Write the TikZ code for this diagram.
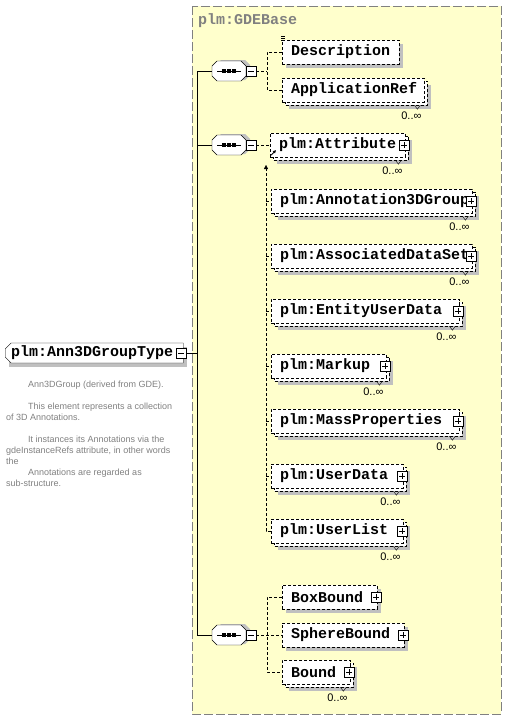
\documentclass[tikz,border=0pt]{standalone}
\usepackage{fontspec}
\setmainfont{Liberation Sans}
\newfontfamily\monofam{Liberation Mono}
\usetikzlibrary{
  positioning,
  shapes.misc,
  arrows.meta
}
\pgfdeclarelayer{frame}
\pgfdeclarelayer{shade}
\pgfsetlayers{frame,shade,main}
\definecolor{gdeyellow}{RGB}{255,255,204}
\definecolor{shadowgray}{RGB}{192,192,192}
\definecolor{docgray}{RGB}{128,128,128}
\newcommand{\elemfont}{\monofam\bfseries\fontsize{15}{15}\selectfont\hyphenpenalty=10000 }
\newcommand{\docfont}{\fontsize{9}{11}\selectfont}
\tikzset{
  gdeframe/.style={draw=docgray, dash pattern=on 9pt off 3pt, fill=gdeyellow},
  elem/.style={draw, dash pattern=on 3pt off 2pt, fill=white, anchor=west,
    minimum height=24, inner xsep=9pt, inner ysep=0pt, text width=#1pt,
    align=left, font=\elemfont},
  backbox/.style={draw, dash pattern=on 3pt off 2pt, fill=white},
  typebox/.style={chamfered rectangle, chamfered rectangle corners={north west,south west},
    chamfered rectangle sep=3pt, draw, fill=white, anchor=west,
    minimum height=20, inner xsep=3pt, inner ysep=0pt, text width=166pt,
    align=left, font=\elemfont},
  seq/.style={minimum width=34, minimum height=20, inner sep=0pt},
  btn/.style={draw, solid, fill=white, minimum size=10, inner sep=0pt},
  plusbtn/.style={btn, path picture={\draw (path picture bounding box.center)
    +(-3,0) -- +(3,0) +(0,-3) -- +(0,3);}},
  minusbtn/.style={btn, path picture={\draw (path picture bounding box.center)
    +(-3,0) -- +(3,0);}},
  conn/.style={dash pattern=on 3pt off 2pt},
  card/.style={font=\fontsize{11}{11}\selectfont, inner sep=0pt}
}
\begin{document}
\begin{tikzpicture}[x=1pt, y=-1pt, line width=1pt]
  \useasboundingbox (0,0) rectangle (507,720);
  \def\Xa{282}; % element column
  \def\Xb{271}; % plm: element column
  \def\Xs{229}; % compositors
  \def\Xt{197}; % trunk
  \def\Xj{267}; % joints

  % base type frame
  \begin{pgfonlayer}{frame}
    \draw[gdeframe] (192,6) rectangle (501,714);
  \end{pgfonlayer}
  \node[anchor=west, inner sep=0pt, font=\elemfont, text=docgray] (gdelabel) at (198,21) {plm:GDEBase};

  % root type + documentation
  \node[typebox] (root) at (5,353) {plm:Ann3DGroupType};
  \node[minusbtn] (rootbtn) at (181,353) {};
  \node[anchor=north west, inner sep=0pt, font=\docfont, text=docgray, align=left] (doc) at (6,381)
    {\hspace*{22pt}Ann3DGroup (derived from GDE).\\[11pt]
     \hspace*{22pt}This element represents a collection\\
     of 3D Annotations.\\[11pt]
     \hspace*{22pt}It instances its Annotations via the\\
     gdeInstanceRefs attribute, in other words\\
     the\\
     \hspace*{22pt}Annotations are regarded as\\
     sub-structure.};

  % compositors (sequence)
  \node[seq] (seqA) at (\Xs,71) {};
  \node[seq] (seqB) at (\Xs,145) {};
  \node[seq] (seqC) at (\Xs,635) {};
  \foreach \s in {seqA,seqB,seqC}{
    \begin{pgfonlayer}{shade}
      \fill[shadowgray] ([shift={(-13,-6)}]\s.center) -- ++(5,-5) -- ++(24,0) -- ++(5,5)
        -- ++(0,10) -- ++(-5,5) -- ++(-24,0) -- ++(-5,-5) -- cycle;
    \end{pgfonlayer}
    \draw[fill=white] ([shift={(-17,-5)}]\s.center) -- ++(5,-5) -- ++(24,0) -- ++(5,5)
      -- ++(0,10) -- ++(-5,5) -- ++(-24,0) -- ++(-5,-5) -- cycle;
    \draw (\s.center) +(-12,0) -- +(12,0);
    \foreach \d in {-5,0,5}
      \fill ([shift={(\d-1.6,-1.6)}]\s.center) rectangle ++(3.2,3.2);
  }
  \node[minusbtn] (seqAbtn) at (251,71) {};
  \node[minusbtn] (seqBbtn) at (251,145) {};
  \node[minusbtn] (seqCbtn) at (251,635) {};

  % trunk
  \coordinate (trunk) at (\Xt,353);
  \draw (rootbtn.east) -- (trunk);
  \draw (seqA.west) -- (seqA.west -| trunk) -- (seqC.west -| trunk) -- (seqC.west);
  \draw (seqB.west) -- (seqB.west -| trunk);

  % first sequence
  \node[elem=99] (desc) at (\Xa,52) {Description};
  \node[elem=124] (appref) at (\Xa,90) {ApplicationRef};
  \coordinate (jA) at (\Xj,71);
  \draw[conn] (seqAbtn.east) -- (jA);
  \draw[conn] (desc.west) -| (jA) |- (appref.west);
  \foreach \k in {0,2,4}
    \draw[line width=0.8pt] ([shift={(-1,-16+\k)}]desc.west) -- ++(4,0);

  % second sequence
  \node[elem=117] (attr) at (270,145) {plm:Attribute};
  \draw[conn] (seqBbtn.east) -- (attr.west);
  \draw[-{Triangle[length=3pt,width=3pt]}, line width=0.8pt]
    ([shift={(1,-2)}]attr.south west) -- ++(5,-5);
  \node[elem=183] (annot) at (\Xb,201) {plm:Annotation3DGroup};
  \node[elem=183] (assoc) at (\Xb,256) {plm:AssociatedDataSet};
  \node[elem=170] (entity) at (\Xb,311) {plm:EntityUserData};
  \node[elem=97] (markup) at (\Xb,366) {plm:Markup};
  \node[elem=170] (mass) at (\Xb,421) {plm:MassProperties};
  \node[elem=114] (usrdata) at (\Xb,476) {plm:UserData};
  \node[elem=114] (usrlist) at (\Xb,531) {plm:UserList};
  \coordinate (subtop) at (266,165);
  \draw[conn, -{Triangle[length=4pt,width=4pt]}]
    (usrlist.west) -- (usrlist.west -| subtop) -- (subtop);
  \foreach \b in {annot,assoc,entity,markup,mass,usrdata}
    \draw[conn] (\b.west -| subtop) -- (\b.west);

  % third sequence
  \node[elem=77] (boxb) at (\Xa,597) {BoxBound};
  \node[elem=104] (sphereb) at (\Xa,635) {SphereBound};
  \node[elem=50] (bound) at (\Xa,672) {Bound};
  \coordinate (jC) at (\Xj,635);
  \draw[conn] (seqCbtn.east) -- (sphereb.west);
  \draw[conn] (boxb.west) -| (jC) |- (bound.west);

  % shadows and stacked boxes
  \begin{pgfonlayer}{shade}
    \fill[shadowgray] ([shift={(4,4)}]root.north -| root.west) rectangle ([shift={(4,4)}]root.south -| root.east);
    \foreach \b in {desc,boxb,sphereb}
      \fill[shadowgray] ([shift={(4,4)}]\b.north west) rectangle ([shift={(4,4)}]\b.south east);
    \foreach \b in {appref,attr,annot,assoc,entity,markup,mass,usrdata,usrlist,bound}{
      \fill[shadowgray] ([shift={(7,7)}]\b.north west) rectangle ([shift={(7,7)}]\b.south east);
      \draw[backbox] ([shift={(3,3)}]\b.north west) rectangle ([shift={(3,3)}]\b.south east);
    }
  \end{pgfonlayer}

  % expand buttons
  \foreach \b in {attr,annot,assoc,entity,markup,mass,usrdata,usrlist,boxb,sphereb,bound}
    \node[plusbtn] (\b-btn) at ([xshift=-1pt]\b.east) {};

  % occurrences
  \foreach \b in {appref,attr,annot,assoc,entity,markup,mass,usrdata,usrlist,bound}{
    \draw ([shift={(-10,3)}]\b.south east) -- ++(3,4) -- ++(3,-4);
    \node[card] (\b-card) at ([shift={(-13,14)}]\b.south east) {0..∞};
  }
\end{tikzpicture}
\end{document}
